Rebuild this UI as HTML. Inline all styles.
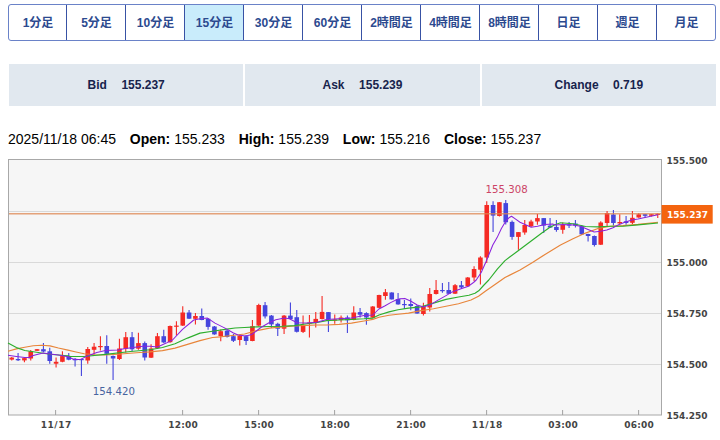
<!DOCTYPE html>
<html lang="ja"><head><meta charset="utf-8"><title>Chart</title>
<style>
html,body{margin:0;padding:0;background:#fff;}
body{width:720px;height:440px;overflow:hidden;position:relative;font-family:"Liberation Sans","Noto Sans CJK JP",sans-serif;}
ul.tabs{position:absolute;left:8px;top:4px;width:708px;height:37px;margin:0;padding:0;list-style:none;display:flex;box-sizing:border-box;border:1px solid #6a82c8;border-radius:3px;background:#fff;}
ul.tabs li{flex:0 0 59px;box-sizing:border-box;padding-left:1px;border-right:1px solid #3852a4;text-align:center;line-height:37px;font-size:12px;font-weight:bold;color:#2c4a8f;white-space:nowrap;}
ul.tabs li:first-child{flex-basis:58px;}
ul.tabs li:last-child{flex-basis:58px;border-right:none;}
ul.tabs li.on{background:#c9ecfb;}
.rates{position:absolute;left:9px;top:64px;width:707px;height:42px;display:flex;gap:2px;}
.rates div{flex:1 1 0;background:#e1e8ef;text-align:center;line-height:42px;font-size:12px;font-weight:bold;color:#17234c;}
.rates span{margin-left:14.5px;}
.ohlc{position:absolute;left:8px;top:131px;font-size:14px;line-height:16px;color:#000;white-space:nowrap;}
.ohlc b{margin-left:10px;}
svg.chart{position:absolute;left:0;top:150px;}
.ax{font-family:"DejaVu Sans",sans-serif;font-size:9px;font-weight:bold;fill:#444;}
.hl{font-family:"DejaVu Sans",sans-serif;font-size:10.2px;}
.tag{font-family:"DejaVu Sans",sans-serif;font-size:9px;font-weight:bold;fill:#fff;}
</style></head><body>
<ul class="tabs"><li>1分足</li><li>5分足</li><li>10分足</li><li class="on">15分足</li><li>30分足</li><li>60分足</li><li>2時間足</li><li>4時間足</li><li>8時間足</li><li>日足</li><li>週足</li><li>月足</li></ul>
<div class="rates"><div>Bid<span>155.237</span></div><div>Ask<span>155.239</span></div><div>Change<span>0.719</span></div></div>
<div class="ohlc">2025/11/18 06:45 <b>Open:</b> 155.233 <b>High:</b> 155.239 <b>Low:</b> 155.216 <b>Close:</b> 155.237</div>
<svg class="chart" width="720" height="290" viewBox="0 150 720 290">
<rect x="8.5" y="159.5" width="653" height="255.5" fill="#f6f6f6" stroke="#a8a8a8" stroke-width="1"/>
<line x1="9" x2="661" y1="211.5" y2="211.5" stroke="#d9d9d9" stroke-width="1"/>
<line x1="9" x2="661" y1="262.5" y2="262.5" stroke="#d9d9d9" stroke-width="1"/>
<line x1="9" x2="661" y1="313.5" y2="313.5" stroke="#d9d9d9" stroke-width="1"/>
<line x1="9" x2="661" y1="364.5" y2="364.5" stroke="#d9d9d9" stroke-width="1"/>
<line x1="55.6" x2="55.6" y1="410" y2="415" stroke="#a0a0a0" stroke-width="1"/>
<text x="56.0" y="428.2" class="ax" text-anchor="middle" textLength="30.5" lengthAdjust="spacing">11/17</text>
<line x1="182.6" x2="182.6" y1="410" y2="415" stroke="#a0a0a0" stroke-width="1"/>
<text x="183.0" y="428.2" class="ax" text-anchor="middle" textLength="29.4" lengthAdjust="spacing">12:00</text>
<line x1="258.6" x2="258.6" y1="410" y2="415" stroke="#a0a0a0" stroke-width="1"/>
<text x="259.0" y="428.2" class="ax" text-anchor="middle" textLength="29.4" lengthAdjust="spacing">15:00</text>
<line x1="334.6" x2="334.6" y1="410" y2="415" stroke="#a0a0a0" stroke-width="1"/>
<text x="335.0" y="428.2" class="ax" text-anchor="middle" textLength="29.4" lengthAdjust="spacing">18:00</text>
<line x1="410.6" x2="410.6" y1="410" y2="415" stroke="#a0a0a0" stroke-width="1"/>
<text x="411.0" y="428.2" class="ax" text-anchor="middle" textLength="29.4" lengthAdjust="spacing">21:00</text>
<line x1="486.6" x2="486.6" y1="410" y2="415" stroke="#a0a0a0" stroke-width="1"/>
<text x="487.0" y="428.2" class="ax" text-anchor="middle" textLength="30.5" lengthAdjust="spacing">11/18</text>
<line x1="562.6" x2="562.6" y1="410" y2="415" stroke="#a0a0a0" stroke-width="1"/>
<text x="563.0" y="428.2" class="ax" text-anchor="middle" textLength="29.4" lengthAdjust="spacing">03:00</text>
<line x1="638.6" x2="638.6" y1="410" y2="415" stroke="#a0a0a0" stroke-width="1"/>
<text x="639.0" y="428.2" class="ax" text-anchor="middle" textLength="29.4" lengthAdjust="spacing">06:00</text>
<text x="666.5" y="164" class="ax">155.500</text>
<text x="666.5" y="265.5" class="ax">155.000</text>
<text x="666.5" y="316.5" class="ax">154.750</text>
<text x="666.5" y="367.5" class="ax">154.500</text>
<text x="666.5" y="418.5" class="ax">154.250</text>
<line x1="11.75" x2="11.75" y1="356.9" y2="360.6" stroke="#f52a24" stroke-width="1.1"/>
<rect x="9.45" y="357.6" width="4.6" height="2.0" fill="#f52a24"/>
<line x1="18.08" x2="18.08" y1="353.1" y2="361.0" stroke="#4545dd" stroke-width="1.1"/>
<rect x="15.78" y="359.0" width="4.6" height="1.3" fill="#4545dd"/>
<line x1="24.42" x2="24.42" y1="356.9" y2="362.3" stroke="#f52a24" stroke-width="1.1"/>
<rect x="22.12" y="358.1" width="4.6" height="2.3" fill="#f52a24"/>
<line x1="30.75" x2="30.75" y1="350.0" y2="360.6" stroke="#f52a24" stroke-width="1.1"/>
<rect x="28.45" y="351.3" width="4.6" height="7.2" fill="#f52a24"/>
<line x1="37.08" x2="37.08" y1="349.0" y2="350.9" stroke="#f52a24" stroke-width="1.1"/>
<rect x="34.78" y="349.2" width="4.6" height="1.6" fill="#f52a24"/>
<line x1="43.42" x2="43.42" y1="343.1" y2="352.2" stroke="#4545dd" stroke-width="1.1"/>
<rect x="41.12" y="349.2" width="4.6" height="2.3" fill="#4545dd"/>
<line x1="49.75" x2="49.75" y1="347.7" y2="363.7" stroke="#4545dd" stroke-width="1.1"/>
<rect x="47.45" y="351.3" width="4.6" height="9.7" fill="#4545dd"/>
<line x1="56.08" x2="56.08" y1="357.4" y2="367.5" stroke="#f52a24" stroke-width="1.1"/>
<rect x="53.78" y="361.8" width="4.6" height="1.9" fill="#f52a24"/>
<line x1="62.42" x2="62.42" y1="351.2" y2="362.2" stroke="#f52a24" stroke-width="1.1"/>
<rect x="60.12" y="356.1" width="4.6" height="5.7" fill="#f52a24"/>
<line x1="68.75" x2="68.75" y1="353.1" y2="360.2" stroke="#4545dd" stroke-width="1.1"/>
<rect x="66.45" y="356.2" width="4.6" height="3.5" fill="#4545dd"/>
<line x1="75.08" x2="75.08" y1="358.1" y2="366.4" stroke="#4545dd" stroke-width="1.1"/>
<rect x="72.78" y="358.8" width="4.6" height="1.5" fill="#4545dd"/>
<line x1="81.42" x2="81.42" y1="359.0" y2="376.0" stroke="#4545dd" stroke-width="1.1"/>
<rect x="79.12" y="359.0" width="4.6" height="1.2" fill="#4545dd"/>
<line x1="87.75" x2="87.75" y1="346.9" y2="363.8" stroke="#f52a24" stroke-width="1.1"/>
<rect x="85.45" y="349.0" width="4.6" height="11.5" fill="#f52a24"/>
<line x1="94.08" x2="94.08" y1="343.1" y2="353.8" stroke="#f52a24" stroke-width="1.1"/>
<rect x="91.78" y="346.7" width="4.6" height="3.1" fill="#f52a24"/>
<line x1="100.42" x2="100.42" y1="336.2" y2="350.6" stroke="#f52a24" stroke-width="1.1"/>
<rect x="98.12" y="346.0" width="4.6" height="1.2" fill="#f52a24"/>
<line x1="106.75" x2="106.75" y1="335.2" y2="363.8" stroke="#4545dd" stroke-width="1.1"/>
<rect x="104.45" y="346.0" width="4.6" height="7.8" fill="#4545dd"/>
<line x1="113.08" x2="113.08" y1="355.6" y2="380.0" stroke="#4545dd" stroke-width="1.1"/>
<rect x="110.78" y="356.0" width="4.6" height="2.5" fill="#4545dd"/>
<line x1="119.42" x2="119.42" y1="338.8" y2="360.0" stroke="#f52a24" stroke-width="1.1"/>
<rect x="117.12" y="348.5" width="4.6" height="10.5" fill="#f52a24"/>
<line x1="125.75" x2="125.75" y1="331.9" y2="352.5" stroke="#f52a24" stroke-width="1.1"/>
<rect x="123.45" y="337.2" width="4.6" height="11.5" fill="#f52a24"/>
<line x1="132.08" x2="132.08" y1="331.9" y2="351.2" stroke="#4545dd" stroke-width="1.1"/>
<rect x="129.78" y="337.2" width="4.6" height="12.1" fill="#4545dd"/>
<line x1="138.42" x2="138.42" y1="332.8" y2="349.8" stroke="#f52a24" stroke-width="1.1"/>
<rect x="136.12" y="343.1" width="4.6" height="5.6" fill="#f52a24"/>
<line x1="144.75" x2="144.75" y1="341.5" y2="360.4" stroke="#4545dd" stroke-width="1.1"/>
<rect x="142.45" y="343.1" width="4.6" height="14.4" fill="#4545dd"/>
<line x1="151.08" x2="151.08" y1="344.2" y2="358.0" stroke="#f52a24" stroke-width="1.1"/>
<rect x="148.78" y="348.5" width="4.6" height="9.2" fill="#f52a24"/>
<line x1="157.42" x2="157.42" y1="333.1" y2="348.8" stroke="#f52a24" stroke-width="1.1"/>
<rect x="155.12" y="336.2" width="4.6" height="11.9" fill="#f52a24"/>
<line x1="163.75" x2="163.75" y1="329.8" y2="343.1" stroke="#4545dd" stroke-width="1.1"/>
<rect x="161.45" y="336.2" width="4.6" height="6.2" fill="#4545dd"/>
<line x1="170.08" x2="170.08" y1="325.6" y2="342.8" stroke="#f52a24" stroke-width="1.1"/>
<rect x="167.78" y="326.0" width="4.6" height="16.2" fill="#f52a24"/>
<line x1="176.42" x2="176.42" y1="321.2" y2="335.6" stroke="#f52a24" stroke-width="1.1"/>
<rect x="174.12" y="325.6" width="4.6" height="1.2" fill="#f52a24"/>
<line x1="182.75" x2="182.75" y1="306.2" y2="326.0" stroke="#f52a24" stroke-width="1.1"/>
<rect x="180.45" y="312.5" width="4.6" height="13.1" fill="#f52a24"/>
<line x1="189.08" x2="189.08" y1="310.0" y2="319.0" stroke="#4545dd" stroke-width="1.1"/>
<rect x="186.78" y="312.5" width="4.6" height="6.2" fill="#4545dd"/>
<line x1="195.42" x2="195.42" y1="313.1" y2="324.4" stroke="#f52a24" stroke-width="1.1"/>
<rect x="193.12" y="316.0" width="4.6" height="2.8" fill="#f52a24"/>
<line x1="201.75" x2="201.75" y1="308.5" y2="320.2" stroke="#4545dd" stroke-width="1.1"/>
<rect x="199.45" y="316.0" width="4.6" height="4.0" fill="#4545dd"/>
<line x1="208.08" x2="208.08" y1="318.1" y2="329.8" stroke="#4545dd" stroke-width="1.1"/>
<rect x="205.78" y="318.8" width="4.6" height="8.1" fill="#4545dd"/>
<line x1="214.42" x2="214.42" y1="326.0" y2="334.8" stroke="#4545dd" stroke-width="1.1"/>
<rect x="212.12" y="326.5" width="4.6" height="7.9" fill="#4545dd"/>
<line x1="220.75" x2="220.75" y1="329.4" y2="341.2" stroke="#f52a24" stroke-width="1.1"/>
<rect x="218.45" y="331.2" width="4.6" height="5.0" fill="#f52a24"/>
<line x1="227.08" x2="227.08" y1="330.0" y2="337.5" stroke="#4545dd" stroke-width="1.1"/>
<rect x="224.78" y="330.6" width="4.6" height="6.3" fill="#4545dd"/>
<line x1="233.42" x2="233.42" y1="334.0" y2="341.9" stroke="#4545dd" stroke-width="1.1"/>
<rect x="231.12" y="336.2" width="4.6" height="4.6" fill="#4545dd"/>
<line x1="239.75" x2="239.75" y1="334.4" y2="345.6" stroke="#f52a24" stroke-width="1.1"/>
<rect x="237.45" y="335.6" width="4.6" height="4.4" fill="#f52a24"/>
<line x1="246.08" x2="246.08" y1="335.0" y2="345.0" stroke="#4545dd" stroke-width="1.1"/>
<rect x="243.78" y="336.2" width="4.6" height="4.8" fill="#4545dd"/>
<line x1="252.42" x2="252.42" y1="320.0" y2="341.2" stroke="#f52a24" stroke-width="1.1"/>
<rect x="250.12" y="326.2" width="4.6" height="14.8" fill="#f52a24"/>
<line x1="258.75" x2="258.75" y1="303.8" y2="326.2" stroke="#f52a24" stroke-width="1.1"/>
<rect x="256.45" y="305.0" width="4.6" height="20.6" fill="#f52a24"/>
<line x1="265.08" x2="265.08" y1="301.9" y2="318.5" stroke="#4545dd" stroke-width="1.1"/>
<rect x="262.78" y="305.2" width="4.6" height="11.2" fill="#4545dd"/>
<line x1="271.42" x2="271.42" y1="315.0" y2="328.1" stroke="#4545dd" stroke-width="1.1"/>
<rect x="269.12" y="315.6" width="4.6" height="8.8" fill="#4545dd"/>
<line x1="277.75" x2="277.75" y1="322.8" y2="336.0" stroke="#4545dd" stroke-width="1.1"/>
<rect x="275.45" y="323.8" width="4.6" height="4.9" fill="#4545dd"/>
<line x1="284.08" x2="284.08" y1="315.0" y2="334.0" stroke="#f52a24" stroke-width="1.1"/>
<rect x="281.78" y="315.6" width="4.6" height="13.1" fill="#f52a24"/>
<line x1="290.42" x2="290.42" y1="302.5" y2="319.4" stroke="#4545dd" stroke-width="1.1"/>
<rect x="288.12" y="315.6" width="4.6" height="3.4" fill="#4545dd"/>
<line x1="296.75" x2="296.75" y1="310.0" y2="332.5" stroke="#4545dd" stroke-width="1.1"/>
<rect x="294.45" y="317.2" width="4.6" height="14.6" fill="#4545dd"/>
<line x1="303.08" x2="303.08" y1="315.6" y2="333.1" stroke="#f52a24" stroke-width="1.1"/>
<rect x="300.78" y="325.0" width="4.6" height="6.9" fill="#f52a24"/>
<line x1="309.42" x2="309.42" y1="315.0" y2="337.5" stroke="#f52a24" stroke-width="1.1"/>
<rect x="307.12" y="322.5" width="4.6" height="1.2" fill="#f52a24"/>
<line x1="315.75" x2="315.75" y1="311.9" y2="327.5" stroke="#f52a24" stroke-width="1.1"/>
<rect x="313.45" y="318.9" width="4.6" height="3.9" fill="#f52a24"/>
<line x1="322.08" x2="322.08" y1="296.0" y2="319.4" stroke="#f52a24" stroke-width="1.1"/>
<rect x="319.78" y="311.9" width="4.6" height="7.1" fill="#f52a24"/>
<line x1="328.42" x2="328.42" y1="311.9" y2="331.9" stroke="#4545dd" stroke-width="1.1"/>
<rect x="326.12" y="312.1" width="4.6" height="7.3" fill="#4545dd"/>
<line x1="334.75" x2="334.75" y1="314.4" y2="323.8" stroke="#f52a24" stroke-width="1.1"/>
<rect x="332.45" y="319.4" width="4.6" height="1.2" fill="#f52a24"/>
<line x1="341.08" x2="341.08" y1="315.6" y2="322.5" stroke="#f52a24" stroke-width="1.1"/>
<rect x="338.78" y="317.5" width="4.6" height="2.5" fill="#f52a24"/>
<line x1="347.41" x2="347.41" y1="315.6" y2="333.1" stroke="#4545dd" stroke-width="1.1"/>
<rect x="345.11" y="317.5" width="4.6" height="2.8" fill="#4545dd"/>
<line x1="353.75" x2="353.75" y1="306.2" y2="320.2" stroke="#f52a24" stroke-width="1.1"/>
<rect x="351.45" y="312.5" width="4.6" height="7.5" fill="#f52a24"/>
<line x1="360.08" x2="360.08" y1="308.1" y2="317.5" stroke="#4545dd" stroke-width="1.1"/>
<rect x="357.78" y="312.1" width="4.6" height="2.6" fill="#4545dd"/>
<line x1="366.41" x2="366.41" y1="312.2" y2="324.8" stroke="#4545dd" stroke-width="1.1"/>
<rect x="364.11" y="313.1" width="4.6" height="4.4" fill="#4545dd"/>
<line x1="372.75" x2="372.75" y1="306.0" y2="318.1" stroke="#f52a24" stroke-width="1.1"/>
<rect x="370.45" y="306.5" width="4.6" height="11.2" fill="#f52a24"/>
<line x1="379.08" x2="379.08" y1="294.8" y2="308.1" stroke="#f52a24" stroke-width="1.1"/>
<rect x="376.78" y="295.0" width="4.6" height="12.8" fill="#f52a24"/>
<line x1="385.41" x2="385.41" y1="289.0" y2="299.8" stroke="#f52a24" stroke-width="1.1"/>
<rect x="383.11" y="292.2" width="4.6" height="3.8" fill="#f52a24"/>
<line x1="391.75" x2="391.75" y1="292.2" y2="299.6" stroke="#4545dd" stroke-width="1.1"/>
<rect x="389.45" y="292.5" width="4.6" height="6.9" fill="#4545dd"/>
<line x1="398.08" x2="398.08" y1="293.1" y2="304.8" stroke="#4545dd" stroke-width="1.1"/>
<rect x="395.78" y="299.0" width="4.6" height="5.4" fill="#4545dd"/>
<line x1="404.41" x2="404.41" y1="300.0" y2="309.0" stroke="#4545dd" stroke-width="1.1"/>
<rect x="402.11" y="304.0" width="4.6" height="1.2" fill="#4545dd"/>
<line x1="410.75" x2="410.75" y1="298.5" y2="310.2" stroke="#4545dd" stroke-width="1.1"/>
<rect x="408.45" y="304.0" width="4.6" height="2.0" fill="#4545dd"/>
<line x1="417.08" x2="417.08" y1="305.0" y2="313.8" stroke="#4545dd" stroke-width="1.1"/>
<rect x="414.78" y="306.0" width="4.6" height="7.5" fill="#4545dd"/>
<line x1="423.41" x2="423.41" y1="302.8" y2="315.6" stroke="#f52a24" stroke-width="1.1"/>
<rect x="421.11" y="306.9" width="4.6" height="7.1" fill="#f52a24"/>
<line x1="429.75" x2="429.75" y1="288.1" y2="311.5" stroke="#f52a24" stroke-width="1.1"/>
<rect x="427.45" y="294.0" width="4.6" height="13.5" fill="#f52a24"/>
<line x1="436.08" x2="436.08" y1="280.0" y2="294.4" stroke="#f52a24" stroke-width="1.1"/>
<rect x="433.78" y="290.0" width="4.6" height="4.0" fill="#f52a24"/>
<line x1="442.41" x2="442.41" y1="282.9" y2="292.8" stroke="#4545dd" stroke-width="1.1"/>
<rect x="440.11" y="290.0" width="4.6" height="1.2" fill="#4545dd"/>
<line x1="448.75" x2="448.75" y1="281.9" y2="294.0" stroke="#4545dd" stroke-width="1.1"/>
<rect x="446.45" y="290.0" width="4.6" height="3.8" fill="#4545dd"/>
<line x1="455.08" x2="455.08" y1="284.0" y2="294.0" stroke="#f52a24" stroke-width="1.1"/>
<rect x="452.78" y="285.2" width="4.6" height="8.5" fill="#f52a24"/>
<line x1="461.41" x2="461.41" y1="281.0" y2="288.8" stroke="#4545dd" stroke-width="1.1"/>
<rect x="459.11" y="285.2" width="4.6" height="2.2" fill="#4545dd"/>
<line x1="467.75" x2="467.75" y1="276.9" y2="286.5" stroke="#f52a24" stroke-width="1.1"/>
<rect x="465.45" y="277.5" width="4.6" height="8.8" fill="#f52a24"/>
<line x1="474.08" x2="474.08" y1="266.2" y2="281.0" stroke="#f52a24" stroke-width="1.1"/>
<rect x="471.78" y="269.0" width="4.6" height="8.5" fill="#f52a24"/>
<line x1="480.41" x2="480.41" y1="256.2" y2="284.4" stroke="#f52a24" stroke-width="1.1"/>
<rect x="478.11" y="257.5" width="4.6" height="12.2" fill="#f52a24"/>
<line x1="486.75" x2="486.75" y1="201.2" y2="263.1" stroke="#f52a24" stroke-width="1.1"/>
<rect x="484.45" y="205.0" width="4.6" height="52.5" fill="#f52a24"/>
<line x1="493.08" x2="493.08" y1="201.2" y2="231.9" stroke="#4545dd" stroke-width="1.1"/>
<rect x="490.78" y="205.0" width="4.6" height="10.6" fill="#4545dd"/>
<line x1="499.41" x2="499.41" y1="201.9" y2="216.5" stroke="#f52a24" stroke-width="1.1"/>
<rect x="497.11" y="202.2" width="4.6" height="13.8" fill="#f52a24"/>
<line x1="505.75" x2="505.75" y1="200.0" y2="224.4" stroke="#4545dd" stroke-width="1.1"/>
<rect x="503.45" y="203.1" width="4.6" height="19.2" fill="#4545dd"/>
<line x1="512.08" x2="512.08" y1="220.6" y2="239.8" stroke="#4545dd" stroke-width="1.1"/>
<rect x="509.78" y="221.9" width="4.6" height="15.0" fill="#4545dd"/>
<line x1="518.41" x2="518.41" y1="231.9" y2="249.8" stroke="#f52a24" stroke-width="1.1"/>
<rect x="516.11" y="232.1" width="4.6" height="4.8" fill="#f52a24"/>
<line x1="524.75" x2="524.75" y1="220.0" y2="234.8" stroke="#f52a24" stroke-width="1.1"/>
<rect x="522.45" y="225.0" width="4.6" height="7.5" fill="#f52a24"/>
<line x1="531.08" x2="531.08" y1="219.8" y2="226.9" stroke="#f52a24" stroke-width="1.1"/>
<rect x="528.78" y="221.5" width="4.6" height="4.8" fill="#f52a24"/>
<line x1="537.41" x2="537.41" y1="214.0" y2="224.8" stroke="#f52a24" stroke-width="1.1"/>
<rect x="535.11" y="218.1" width="4.6" height="3.4" fill="#f52a24"/>
<line x1="543.75" x2="543.75" y1="217.9" y2="233.1" stroke="#4545dd" stroke-width="1.1"/>
<rect x="541.45" y="218.1" width="4.6" height="7.5" fill="#4545dd"/>
<line x1="550.08" x2="550.08" y1="218.1" y2="228.1" stroke="#4545dd" stroke-width="1.1"/>
<rect x="547.78" y="225.6" width="4.6" height="2.0" fill="#4545dd"/>
<line x1="556.41" x2="556.41" y1="220.0" y2="231.7" stroke="#4545dd" stroke-width="1.1"/>
<rect x="554.11" y="226.9" width="4.6" height="3.1" fill="#4545dd"/>
<line x1="562.75" x2="562.75" y1="222.5" y2="233.8" stroke="#f52a24" stroke-width="1.1"/>
<rect x="560.45" y="225.0" width="4.6" height="4.8" fill="#f52a24"/>
<line x1="569.08" x2="569.08" y1="221.9" y2="228.1" stroke="#4545dd" stroke-width="1.1"/>
<rect x="566.78" y="224.4" width="4.6" height="1.2" fill="#4545dd"/>
<line x1="575.41" x2="575.41" y1="220.0" y2="227.5" stroke="#4545dd" stroke-width="1.1"/>
<rect x="573.11" y="223.5" width="4.6" height="2.1" fill="#4545dd"/>
<line x1="581.75" x2="581.75" y1="225.0" y2="235.0" stroke="#4545dd" stroke-width="1.1"/>
<rect x="579.45" y="226.2" width="4.6" height="8.2" fill="#4545dd"/>
<line x1="588.08" x2="588.08" y1="233.8" y2="241.5" stroke="#4545dd" stroke-width="1.1"/>
<rect x="585.78" y="234.0" width="4.6" height="2.0" fill="#4545dd"/>
<line x1="594.41" x2="594.41" y1="235.4" y2="246.5" stroke="#4545dd" stroke-width="1.1"/>
<rect x="592.11" y="236.0" width="4.6" height="9.0" fill="#4545dd"/>
<line x1="600.75" x2="600.75" y1="221.2" y2="245.0" stroke="#f52a24" stroke-width="1.1"/>
<rect x="598.45" y="222.5" width="4.6" height="22.2" fill="#f52a24"/>
<line x1="607.08" x2="607.08" y1="211.0" y2="227.0" stroke="#f52a24" stroke-width="1.1"/>
<rect x="604.78" y="213.0" width="4.6" height="10.0" fill="#f52a24"/>
<line x1="613.41" x2="613.41" y1="210.0" y2="225.5" stroke="#4545dd" stroke-width="1.1"/>
<rect x="611.11" y="214.5" width="4.6" height="8.5" fill="#4545dd"/>
<line x1="619.75" x2="619.75" y1="214.2" y2="224.3" stroke="#f52a24" stroke-width="1.1"/>
<rect x="617.45" y="222.0" width="4.6" height="1.4" fill="#f52a24"/>
<line x1="626.08" x2="626.08" y1="216.0" y2="224.7" stroke="#4545dd" stroke-width="1.1"/>
<rect x="623.78" y="221.3" width="4.6" height="1.7" fill="#4545dd"/>
<line x1="632.41" x2="632.41" y1="211.0" y2="223.9" stroke="#f52a24" stroke-width="1.1"/>
<rect x="630.11" y="217.8" width="4.6" height="5.0" fill="#f52a24"/>
<line x1="638.75" x2="638.75" y1="213.0" y2="217.8" stroke="#f52a24" stroke-width="1.1"/>
<rect x="636.45" y="214.3" width="4.6" height="3.2" fill="#f52a24"/>
<line x1="645.08" x2="645.08" y1="214.0" y2="217.5" stroke="#4545dd" stroke-width="1.1"/>
<rect x="642.78" y="214.2" width="4.6" height="1.6" fill="#4545dd"/>
<line x1="651.41" x2="651.41" y1="214.0" y2="216.5" stroke="#f52a24" stroke-width="1.1"/>
<rect x="649.11" y="214.2" width="4.6" height="1.6" fill="#f52a24"/>
<line x1="657.75" x2="657.75" y1="213.2" y2="217.9" stroke="#f52a24" stroke-width="1.1"/>
<rect x="655.45" y="213.7" width="4.6" height="1.2" fill="#f52a24"/>
<line x1="9" x2="661" y1="213.7" y2="213.7" stroke="#dd8650" stroke-width="1.5" stroke-opacity="0.75"/>
<polyline points="8.0,351.2 16.4,348.9 24.8,347.2 33.2,345.8 41.6,345.2 50.0,345.9 58.4,348.0 68.0,350.1 76.0,352.0 84.2,353.8 95.0,354.8 105.0,355.0 118.0,354.2 130.0,353.2 140.0,352.5 150.0,351.9 162.5,350.6 175.0,348.1 187.5,344.4 200.0,340.6 212.5,337.5 220.0,336.9 232.0,335.5 244.5,334.0 257.0,330.6 269.5,328.1 282.0,326.9 294.5,326.0 307.0,325.4 316.0,325.0 326.5,325.0 339.0,324.4 351.5,323.1 364.0,321.0 372.8,319.4 379.0,317.2 389.0,315.2 398.0,314.3 408.5,313.1 421.0,310.6 433.5,308.8 446.0,306.2 458.5,303.8 471.0,300.0 478.5,296.2 486.0,290.8 492.5,286.2 505.0,277.5 520.0,270.0 532.5,262.5 545.0,254.4 560.5,245.0 573.0,238.8 585.5,233.1 598.0,228.5 610.5,226.3 623.0,225.6 638.0,224.4 658.0,222.3" fill="none" stroke="#e8853a" stroke-width="1.15" stroke-linejoin="round"/>
<polyline points="8.0,343.0 16.4,347.6 24.8,350.5 33.2,351.8 41.6,353.0 50.0,354.2 58.4,355.0 68.0,355.9 70.5,356.5 84.0,356.5 105.5,354.4 130.5,351.5 150.0,349.8 162.5,347.5 175.0,343.8 187.5,338.1 200.0,333.1 212.5,331.2 225.0,329.4 235.0,328.0 244.5,327.5 257.0,326.9 269.5,326.5 282.0,326.3 294.5,325.6 307.0,323.8 316.0,322.8 326.5,320.6 339.0,320.0 351.5,319.4 364.0,318.8 372.8,318.1 379.0,315.0 389.0,311.9 398.0,309.8 408.5,308.1 421.0,306.9 433.5,303.1 446.0,299.4 458.5,297.0 468.9,295.2 475.0,293.2 478.7,290.8 483.5,285.5 488.8,280.0 497.5,268.8 505.0,260.6 517.5,251.2 532.5,240.0 542.5,232.5 550.0,227.3 555.0,224.7 560.5,222.8 573.0,223.8 585.5,226.5 598.0,226.9 610.5,226.2 623.0,226.2 638.0,224.9 658.0,223.0" fill="none" stroke="#2dae2d" stroke-width="1.15" stroke-linejoin="round"/>
<polyline points="8.0,355.3 16.4,356.4 24.8,357.5 29.0,357.5 33.2,355.6 39.0,353.9 43.3,353.0 50.0,353.9 58.4,355.0 68.0,356.7 74.0,359.4 80.5,359.4 86.8,356.2 96.8,352.5 105.5,350.6 118.0,350.0 124.0,348.8 133.0,347.5 143.0,346.2 150.0,346.2 157.5,346.9 166.2,343.1 172.5,340.0 182.5,329.4 193.8,320.0 200.0,318.8 207.5,318.1 215.0,323.1 225.0,328.1 233.0,332.8 238.0,335.0 245.8,336.0 252.0,334.4 260.8,327.5 269.5,322.5 275.8,319.8 284.5,318.1 289.5,318.8 297.0,322.8 307.0,323.1 317.0,322.3 326.5,319.4 339.0,318.8 351.5,318.1 364.0,315.6 372.8,315.0 378.9,309.0 384.7,306.0 390.6,302.6 396.5,299.7 400.0,298.7 404.8,298.4 411.0,301.2 417.2,305.0 423.5,306.9 431.0,304.4 437.2,300.6 446.0,295.6 452.2,291.9 461.0,288.8 468.5,286.2 473.5,282.5 476.2,280.0 481.2,272.5 486.2,261.2 491.2,249.0 492.8,245.0 497.1,237.6 501.4,228.5 505.7,221.3 508.9,217.8 511.5,216.2 515.3,218.9 520.0,222.3 525.0,224.4 531.2,227.2 537.5,226.2 545.0,224.4 552.5,223.9 555.5,225.0 563.0,224.4 573.0,225.0 580.5,226.2 588.0,229.4 594.2,231.9 600.5,231.2 606.8,230.0 613.0,227.8 619.2,224.4 625.5,221.9 631.8,220.0 638.0,219.0 645.0,217.5 652.0,216.0 658.0,214.8" fill="none" stroke="#8a22dd" stroke-width="1.05" stroke-linejoin="round"/>
<text x="485.5" y="192.5" class="hl" fill="#cc4466">155.308</text>
<text x="92.8" y="394.8" class="hl" fill="#46639f">154.420</text>
<rect x="661.6" y="205" width="51.1" height="18.6" fill="#f4640f"/>
<text x="667" y="218" class="tag">155.237</text>
</svg>
</body></html>
